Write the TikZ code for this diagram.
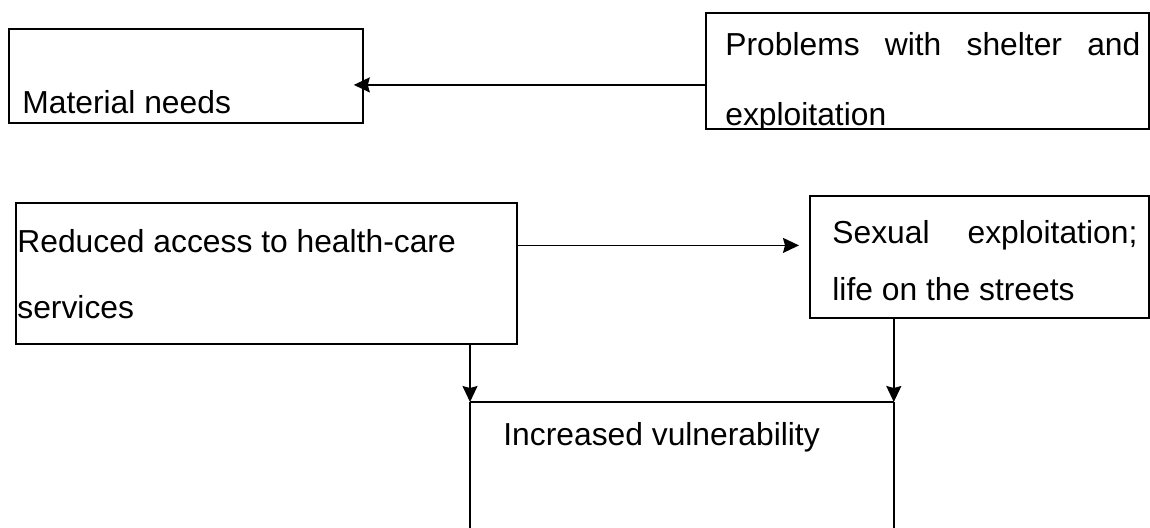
\documentclass[tikz,border=0pt]{standalone}
\usepackage{fontspec}
\setmainfont{Liberation Sans}
\usetikzlibrary{arrows.meta,positioning}

\tikzset{
    box/.style={draw, line width=0.9pt, rectangle, anchor=north west, inner sep=0pt},
    txt/.style={anchor=base west, inner sep=0pt, font=\fontsize{15.9}{19}\selectfont},
    arr/.style={-{Stealth[length=8pt,width=7.5pt,inset=1pt]}, line width=0.8pt}
}

\begin{document}
\begin{tikzpicture}[x=0.5pt, y=-0.5pt]
    \useasboundingbox (0,0) rectangle (1150,527);

    % Top row
    \node[box, minimum width=177pt, minimum height=47pt] (needs) at (8,28) {};
    \node[txt] (needstxt) at (22,113) {Material needs};

    \node[box, minimum width=221.5pt, minimum height=58pt] (shelter) at (705,12) {};
    \node[txt] (sheltertxt) at (725,55) {\makebox[207.5pt][s]{Problems with shelter and}};
    \begin{scope}
        \clip (shelter.north west) rectangle (shelter.south east);
        \node[txt] (sheltertxtb) at (725,125) {exploitation};
    \end{scope}

    \draw[arr, shorten >=-5pt] ([yshift=-7pt]shelter.west) -- ([yshift=-7pt]shelter.west -| needs.east);

    % Middle row
    \node[box, minimum width=250.5pt, minimum height=70.5pt] (health) at (15,202) {};
    \node[txt] (healthtxt) at (17,252) {Reduced access to health-care};
    \node[txt] (healthtxtb) at (17,318) {services};

    \node[box, minimum width=169.5pt, minimum height=61pt] (streets) at (809,195) {};
    \node[txt] (streetstxt) at (832,243) {\makebox[152.5pt][s]{Sexual exploitation;}};
    \node[txt] (streetstxtb) at (832,300) {life on the streets};

    \draw[arr, shorten >=5pt] ([yshift=14pt]health.east) -- ([yshift=14pt]health.east -| streets.west);

    % Bottom box, open at the bottom
    \node[anchor=north west, minimum width=211.5pt, minimum height=62.5pt, inner sep=0pt] (vuln) at (470,402) {};
    \node[txt] (vulntxt) at (503,445) {Increased vulnerability};
    \draw[line width=0.9pt] (vuln.north west) -- (vuln.north east);
    \draw[line width=0.8pt] (vuln.north west) -- (vuln.south west);
    \draw[line width=0.8pt] (vuln.north east) -- (vuln.south east);

    \draw[arr] (vuln.north west |- health.south) -- (vuln.north west);
    \draw[arr] (vuln.north east |- streets.south) -- (vuln.north east);
\end{tikzpicture}
\end{document}
